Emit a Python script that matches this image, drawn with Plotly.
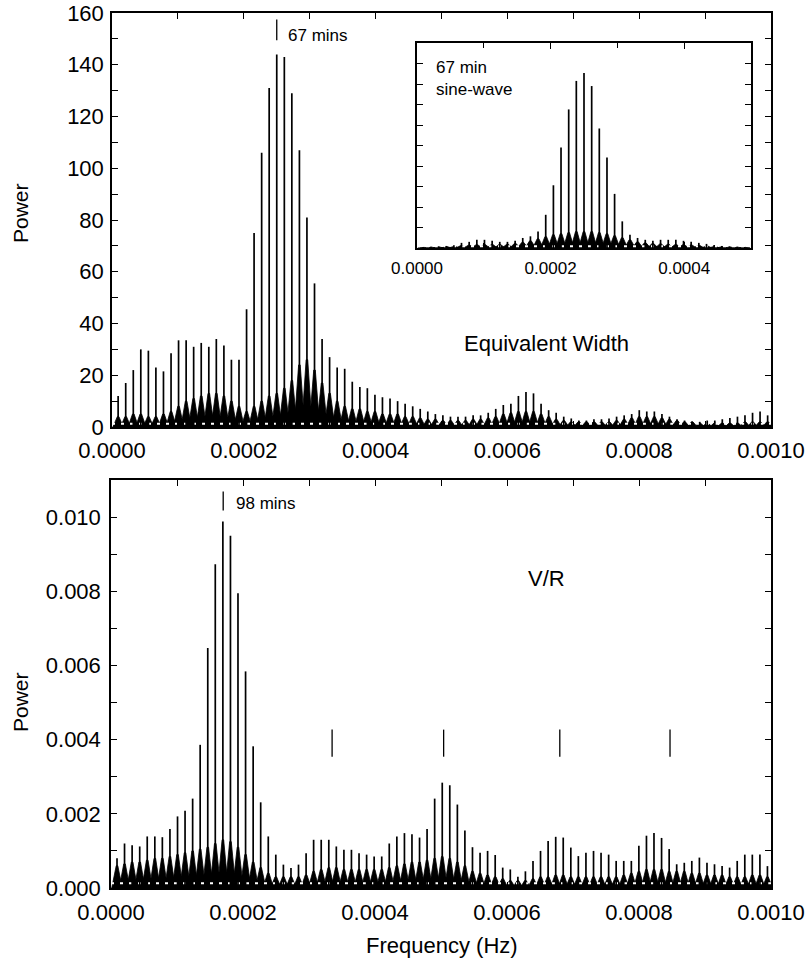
import plotly.graph_objects as go

W, H = 806, 974

# ---------------- data ----------------
# Equivalent-width periodogram: alias-comb peak frequencies (micro-Hz), peak power, and the dense floor level
EW_FREQ_UHZ = [9.3, 20.8, 32.3, 43.7, 55.2, 66.6, 78.1, 89.6, 101.0, 112.5,
               123.9, 135.4, 146.9, 158.3, 169.8, 181.2, 192.7, 204.2, 215.6, 227.1,
               238.5, 250.0, 261.5, 272.9, 284.4, 295.8, 307.3, 318.8, 330.2, 341.7,
               353.1, 364.6, 376.1, 387.5, 399.0, 410.4, 421.9, 433.4, 444.8, 456.3,
               467.7, 479.2, 490.7, 502.1, 513.6, 525.0, 536.5, 548.0, 559.4, 570.9,
               582.3, 593.8, 605.3, 616.7, 628.2, 639.6, 651.1, 662.6, 674.0, 685.5,
               696.9, 708.4, 719.9, 731.3, 742.8, 754.2, 765.7, 777.2, 788.6, 800.1,
               811.5, 823.0, 834.5, 845.9, 857.4, 868.8, 880.3, 891.8, 903.2, 914.7,
               926.1, 937.6, 949.1, 960.5, 972.0, 983.4, 994.9]
EW_POWER = [12, 17, 22, 30, 29.5, 23, 21.5, 28.5, 33.5, 33.5,
            31, 32.5, 31, 34, 31.5, 26, 26, 45.5, 75, 106,
            131, 144, 143, 129, 107, 81, 55.5, 34, 27, 23,
            22.5, 17.5, 15.5, 15, 12.5, 11.5, 11, 10, 9, 8,
            7, 6, 5, 4.5, 4, 4, 4, 4.5, 4.5, 5.5,
            7, 8.5, 9, 12, 13.5, 13, 9, 6.5, 5.5, 4,
            3.3, 2.5, 2.5, 3, 3, 3.3, 4, 4.5, 5, 6.5,
            6, 6, 5, 4, 3, 2.5, 2, 2, 2.5, 2.5,
            3, 3.5, 4, 4.5, 5.5, 6, 4.5]
EW_FLOOR = [4, 4, 5, 5, 4, 4, 5, 6, 8, 10,
            11, 12, 13, 13, 12, 10, 8, 6, 8, 10,
            12, 13, 15, 18, 24, 26, 22, 17, 13, 10,
            8, 7, 7, 6, 6, 5, 5, 5, 4, 4,
            3.5, 3, 3, 2.5, 2.5, 2.5, 2.5, 3, 3, 3.5,
            4, 5, 5.5, 6, 6, 6, 5, 4, 3, 2.5,
            2, 2, 2, 2, 2, 2, 2.5, 3, 3.5, 4,
            4, 4, 3.5, 3, 2.5, 2, 2, 1.5, 1.5, 1.5,
            1.5, 1.5, 1.5, 2, 2, 2, 2]

# V/R periodogram (power in units of 1e-3)
VR_FREQ_UHZ = [9.1, 20.5, 32.0, 43.5, 54.9, 66.4, 77.8, 89.3, 100.8, 112.2,
               123.7, 135.1, 146.6, 158.0, 169.5, 181.0, 192.4, 203.9, 215.4, 226.8,
               238.3, 249.7, 261.2, 272.7, 284.1, 295.6, 307.0, 318.5, 330.0, 341.4,
               352.9, 364.3, 375.8, 387.3, 398.7, 410.2, 421.6, 433.1, 444.6, 456.0,
               467.5, 478.9, 490.4, 501.9, 513.3, 524.8, 536.2, 547.7, 559.2, 570.6,
               582.1, 593.5, 605.0, 616.5, 627.9, 639.4, 650.8, 662.3, 673.8, 685.2,
               696.7, 708.1, 719.6, 731.1, 742.5, 754.0, 765.4, 776.9, 788.4, 799.8,
               811.3, 822.7, 834.2, 845.7, 857.1, 868.6, 880.0, 891.5, 903.0, 914.4,
               925.9, 937.3, 948.8, 960.3, 971.7, 983.2, 994.6]
VR_POWER_E3 = [0.8, 1.2, 1.15, 1.12, 1.39, 1.39, 1.37, 1.59, 1.93, 2.08,
               2.41, 3.86, 6.47, 8.73, 9.88, 9.5, 7.95, 5.84, 3.82, 2.31,
               1.39, 0.9, 0.63, 0.54, 0.63, 0.94, 1.3, 1.3, 1.3, 1.12,
               1.03, 1.03, 0.94, 0.9, 0.85, 0.85, 1.2, 1.39, 1.48, 1.45,
               1.36, 1.59, 2.41, 2.84, 2.77, 2.25, 1.55, 1.1, 0.95, 1.0,
               0.89, 0.55, 0.5, 0.3, 0.45, 0.73, 1.0, 1.27, 1.38, 1.36,
               1.09, 0.86, 0.95, 1.0, 0.95, 0.9, 0.73, 0.73, 0.73, 1.14,
               1.41, 1.48, 1.35, 1.05, 0.64, 0.68, 0.73, 0.82, 0.68, 0.64,
               0.59, 0.55, 0.73, 0.9, 0.9, 0.9, 0.59]
VR_FLOOR_E3 = [0.6, 0.65, 0.7, 0.7, 0.75, 0.8, 0.8, 0.85, 0.9, 0.95,
               1.0, 1.05, 1.1, 1.2, 1.3, 1.25, 1.1, 0.9, 0.7, 0.55,
               0.4, 0.3, 0.3, 0.3, 0.3, 0.35, 0.45, 0.5, 0.55, 0.55,
               0.5, 0.5, 0.5, 0.5, 0.5, 0.5, 0.55, 0.6, 0.65, 0.7,
               0.7, 0.75, 0.8, 0.85, 0.8, 0.7, 0.6, 0.45, 0.4, 0.35,
               0.3, 0.25, 0.2, 0.2, 0.2, 0.25, 0.3, 0.3, 0.35, 0.35,
               0.3, 0.3, 0.3, 0.3, 0.3, 0.3, 0.3, 0.35, 0.4, 0.45,
               0.5, 0.5, 0.5, 0.45, 0.45, 0.45, 0.4, 0.4, 0.35, 0.35,
               0.35, 0.3, 0.3, 0.3, 0.35, 0.35, 0.3]

# Inset: window of a 67 min sine wave (arbitrary units)
SINE_FREQ_UHZ = [9.3, 20.8, 32.3, 43.7, 55.2, 66.6, 78.1, 89.6, 101.0, 112.5,
                 123.9, 135.4, 146.9, 158.3, 169.8, 181.2, 192.7, 204.2, 215.6, 227.1,
                 238.5, 250.0, 261.5, 272.9, 284.4, 295.8, 307.3, 318.8, 330.2, 341.7,
                 353.1, 364.6, 376.1, 387.5, 399.0, 410.4, 421.9, 433.4, 444.8, 456.3,
                 467.7, 479.2, 490.7]
SINE_POWER = [0.5, 0.6, 0.8, 1.0, 1.3, 2.5, 3.0, 4.0, 4.0, 3.5,
              3.0, 3.0, 3.5, 4.9, 5.7, 8.1, 16.2, 30.6, 49, 67.6,
              81.5, 85.4, 79, 58.3, 44.2, 26.4, 13, 6.5, 4.9, 4.0,
              3.5, 4.0, 4.0, 4.0, 3.5, 3.0, 2.5, 2.0, 1.5, 1.0,
              0.8, 0.6, 0.5]
SINE_FLOOR = [0.3, 0.4, 0.5, 0.7, 0.9, 1.2, 1.4, 1.6, 1.7, 1.7,
              1.7, 1.8, 2.2, 2.8, 3.5, 4.5, 5.5, 6.5, 7, 7.5,
              8, 8, 8, 7.5, 7, 6, 5, 4, 3, 2.5,
              2.2, 2, 1.8, 1.7, 1.6, 1.5, 1.3, 1.1, 0.9, 0.7,
              0.5, 0.4, 0.3]

# Period markers
EW_MARK_FREQ = [0.000250]           # 67 mins
VR_MARK_FREQ = [0.000170]           # 98 mins
VR_HARMONIC_FREQ = [0.000335, 0.000504, 0.000680, 0.000847]

X_TICKS = [0.0, 0.0002, 0.0004, 0.0006, 0.0008, 0.0010]
X_TICK_TEXT = ["0.0000", "0.0002", "0.0004", "0.0006", "0.0008", "0.0010"]
INSET_TICKS = [0.0, 0.0002, 0.0004]
INSET_TICK_TEXT = ["0.0000", "0.0002", "0.0004"]
EW_Y_TICKS = [0, 20, 40, 60, 80, 100, 120, 140, 160]
VR_Y_TICKS = [0.0, 0.002, 0.004, 0.006, 0.008, 0.010]
VR_Y_TICK_TEXT = ["0.000", "0.002", "0.004", "0.006", "0.008", "0.010"]

FONT = "Liberation Sans, Arial, Helvetica, sans-serif"


def to_hz(vals):
    return [v * 1e-6 for v in vals]


def spike_xy(freqs, powers):
    xs, ys = [], []
    for f, p in zip(freqs, powers):
        xs += [f, f, None]
        ys += [0, p, None]
    return xs, ys


def teeth_xy(freqs, floors, half):
    xs, ys = [], []
    for f, fl in zip(freqs, floors):
        xs += [f - half, f - 0.15 * half, f + 0.15 * half, f + half, f - half, None]
        ys += [0, fl, fl, 0, 0, None]
    return xs, ys


fig = go.Figure()


def add_periodogram(freq_uhz, power, floor, scale, xa, ya, half, speckle_level, x_max):
    f = to_hz(freq_uhz)
    p = [v * scale for v in power]
    fl = [v * scale for v in floor]
    tx, ty = teeth_xy(f, fl, half)
    fig.add_trace(go.Scatter(x=tx, y=ty, mode="lines", fill="toself", fillcolor="black",
                             line=dict(color="black", width=0.8), xaxis=xa, yaxis=ya,
                             hoverinfo="skip", showlegend=False))
    # white speckles along the base of the dense floor (as in the printed figure)
    fig.add_trace(go.Scatter(x=[0, x_max], y=[speckle_level, speckle_level], mode="lines",
                             line=dict(color="white", width=2, dash="3px,6px"),
                             xaxis=xa, yaxis=ya, showlegend=False, hoverinfo="skip"))
    sx, sy = spike_xy(f, p)
    fig.add_trace(go.Scatter(x=sx, y=sy, mode="lines", line=dict(color="black", width=1.7),
                             xaxis=xa, yaxis=ya, showlegend=False, hoverinfo="skip"))


add_periodogram(EW_FREQ_UHZ, EW_POWER, EW_FLOOR, 1.0, "x", "y", 8e-6, 1.3, 0.001)
add_periodogram(VR_FREQ_UHZ, VR_POWER_E3, VR_FLOOR_E3, 1e-3, "x2", "y2", 8e-6, 0.00013, 0.001)
add_periodogram(SINE_FREQ_UHZ, SINE_POWER, SINE_FLOOR, 1.0, "x3", "y3", 8e-6, 0.9, 0.0005)


def px(x):
    return x / W


def py(y):
    return 1 - y / H


axis_common = dict(showline=True, linecolor="black", linewidth=1.5, mirror="allticks",
                   ticks="inside", ticklen=6, tickwidth=1.3, tickcolor="black",
                   showgrid=False, zeroline=False, automargin=False,
                   tickfont=dict(family=FONT, size=22, color="black"))

fig.update_layout(
    template="none",
    width=W, height=H, margin=dict(l=0, r=0, t=0, b=0, pad=0, autoexpand=False),
    paper_bgcolor="white", plot_bgcolor="white",
    font=dict(family=FONT, color="black"),
    xaxis=dict(domain=[px(112), px(771)], anchor="y", range=[0, 0.001],
               tickvals=X_TICKS, ticktext=X_TICK_TEXT, ticklabelstandoff=3,
               minor=dict(dtick=0.0001, ticks="inside", ticklen=6, tickcolor="black", showgrid=False),
               **axis_common),
    yaxis=dict(domain=[py(427), py(13)], anchor="x", range=[0, 160],
               tickvals=EW_Y_TICKS, ticklabelstandoff=2,
               minor=dict(dtick=10, ticks="inside", ticklen=6, tickcolor="black", showgrid=False),
               **axis_common),
    xaxis2=dict(domain=[px(111), px(771)], anchor="y2", range=[0, 0.001],
                tickvals=X_TICKS, ticktext=X_TICK_TEXT, ticklabelstandoff=4,
                minor=dict(dtick=0.0001, ticks="inside", ticklen=6, tickcolor="black", showgrid=False),
                **axis_common),
    yaxis2=dict(domain=[py(888), py(480)], anchor="x2", range=[0, 0.011],
                tickvals=VR_Y_TICKS, ticktext=VR_Y_TICK_TEXT, ticklabelstandoff=4,
                minor=dict(dtick=0.001, ticks="inside", ticklen=6, tickcolor="black", showgrid=False),
                **axis_common),
    xaxis3=dict(domain=[px(417), px(751)], anchor="y3", range=[0, 0.0005],
                tickvals=INSET_TICKS, ticktext=INSET_TICK_TEXT, ticklabelstandoff=4,
                minor=dict(dtick=0.0001, ticks="inside", ticklen=5, tickcolor="black", showgrid=False),
                **{**axis_common, "tickfont": dict(family=FONT, size=17, color="black")}),
    yaxis3=dict(domain=[py(248), py(43)], anchor="x3", range=[0, 100], dtick=10,
                showticklabels=False,
                **{**axis_common, "ticklen": 6}),
)

# period markers
for f in EW_MARK_FREQ:
    fig.add_shape(type="line", xref="x", yref="y", x0=f, x1=f, y0=149.5, y1=157.5,
                  line=dict(color="black", width=1.3))
for f in VR_MARK_FREQ:
    fig.add_shape(type="line", xref="x2", yref="y2", x0=f, x1=f, y0=0.01018, y1=0.01069,
                  line=dict(color="black", width=1.3))
for f in VR_HARMONIC_FREQ:
    fig.add_shape(type="line", xref="x2", yref="y2", x0=f, x1=f, y0=0.00354, y1=0.00427,
                  line=dict(color="black", width=1.3))


def note(text, x, y, size, xanchor="center", angle=0, yanchor="middle", align="center"):
    fig.add_annotation(text=text, x=px(x), y=py(y), xref="paper", yref="paper",
                       showarrow=False, xanchor=xanchor, yanchor=yanchor, textangle=angle,
                       align=align, font=dict(family=FONT, size=size, color="black"))


note("Power", 20, 213, 21, angle=-90)
note("Power", 20, 702, 21, angle=-90)
note("Frequency (Hz)", 442, 945, 22)
note("Equivalent Width", 546, 343, 22)
note("V/R", 546, 578, 22)
note("67 mins", 286, 35, 17, xanchor="left")
note("98 mins", 234, 503, 17, xanchor="left")
note("67 min<br>sine-wave", 434, 56, 17, xanchor="left", yanchor="top", align="left")

fig.write_html("out.html")
